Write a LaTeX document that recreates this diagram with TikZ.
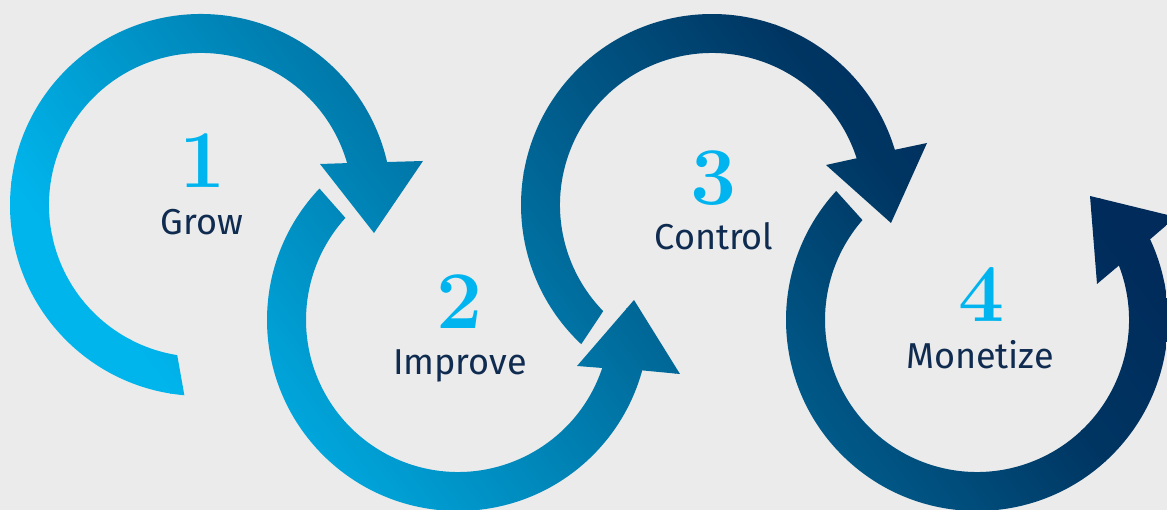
\documentclass[tikz,border=0pt]{standalone}
\usepackage{fontspec}
\usetikzlibrary{calc}
\newfontfamily\labelfont{Fira Sans}
\definecolor{bgcol}{HTML}{EBEBEB}
\definecolor{gA}{HTML}{00B5EC}
\definecolor{gB}{HTML}{006898}
\definecolor{gC}{HTML}{003562}
\definecolor{gD}{HTML}{002B5B}
\definecolor{numcol}{HTML}{00B5EF}
\definecolor{txtcol}{HTML}{0F2B50}
\begin{document}
\begin{tikzpicture}[x=1pt,y=1pt,
  numlabel/.style={text=numcol, font=\fontsize{82}{82}\selectfont\bfseries, inner sep=0pt, anchor=base},
  steplabel/.style={text=txtcol, font=\labelfont\fontsize{36}{36}\selectfont, inner sep=0pt, anchor=base}]
\fill[bgcol] (0,0) rectangle (1167,510);
% centres of the four ring arrows
\coordinate (c1) at (201,305);
\coordinate (c2) at (458,190);
\coordinate (c3) at (712,305);
\coordinate (c4) at (977,190);
\begin{scope}
  \clip (0,0) rectangle (1167,510);
  \clip
    % arrow 1: clockwise, head pointing down
    ($(c1)+(265:191)$) arc[start angle=265, end angle=13, radius=191]
      -- (423,349) -- (374,277) -- (320,346)
      -- ($(c1)+(16:152)$) arc[start angle=16, end angle=261, radius=152] -- cycle
    % arrow 2: counter-clockwise, head pointing up
    ($(c2)+(136.5:191)$) arc[start angle=136.5, end angle=344.7, radius=191]
      -- (680,136) -- (634,210) -- (577,144)
      -- ($(c2)+(341.6:152)$) arc[start angle=341.6, end angle=137.8, radius=152] -- cycle
    % arrow 3: clockwise, head pointing down
    ($(c3)+(226.8:191)$) arc[start angle=226.8, end angle=16.8, radius=191]
      -- (927,367) -- (891,287) -- (826,345)
      -- ($(c3)+(17.9:152)$) arc[start angle=17.9, end angle=224.3, radius=152] -- cycle
    % arrow 4: counter-clockwise, head pointing up
    ($(c4)+(137.5:191)$) arc[start angle=137.5, end angle=385, radius=191]
      -- (1176,293) -- (1090,314) -- (1097,226)
      -- ($(c4)+(21:152)$) arc[start angle=381, end angle=138.9, radius=152] -- cycle;
  % diagonal cyan-to-navy gradient behind the arrows
  \begin{scope}[transform canvas={rotate=37}]
    \fill[gA] (-300,-900) rectangle (207,700);
    \shade[left color=gA, right color=gB] (206,-900) rectangle (622,700);
    \shade[left color=gB, right color=gC] (621,-900) rectangle (912,700);
    \shade[left color=gC, right color=gD] (911,-900) rectangle (1066,700);
    \fill[gD] (1065,-900) rectangle (1600,700);
  \end{scope}
\end{scope}
% step numbers and names
\node[numlabel] (n1) at (203,322) {1};
\node[steplabel] (l1) at (202,275) {Grow};
\node[numlabel] (n2) at (460,181) {2};
\node[steplabel] (l2) at (460,135) {Improve};
\node[numlabel] (n3) at (714,305) {3};
\node[steplabel] (l3) at (714,260) {Control};
\node[numlabel] (n4) at (982,188) {4};
\node[steplabel] (l4) at (980,141) {Monetize};
\pgfresetboundingbox
\useasboundingbox (0,0) rectangle (1167,510);
\end{tikzpicture}
\end{document}
